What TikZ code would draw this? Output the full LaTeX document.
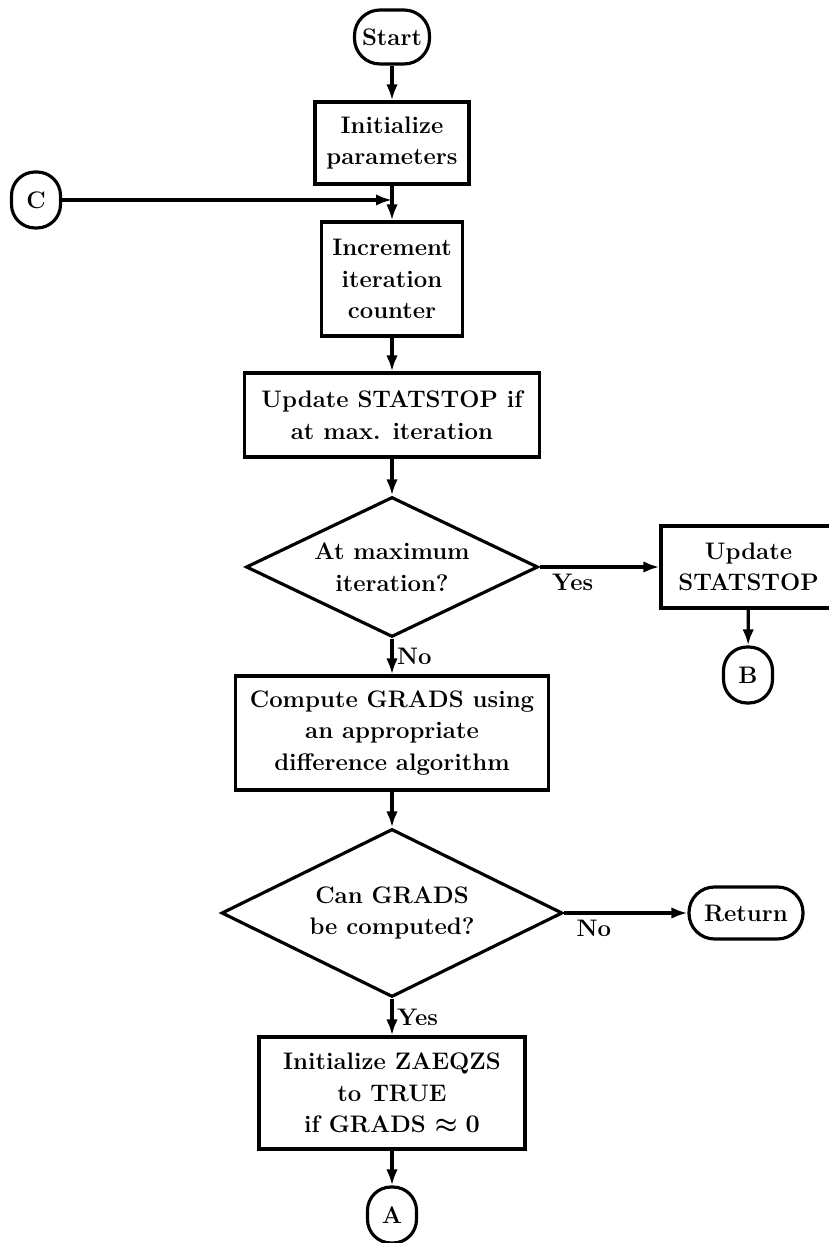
\documentclass[tikz,border=0pt]{standalone}
\usepackage{amsmath,amssymb}
\usetikzlibrary{positioning,arrows.meta,shapes.geometric,shapes.misc}
\newcommand{\flowfont}{\fontsize{13.6}{18}\selectfont\bfseries\boldmath}
\tikzset{
  every picture/.style={line width=1.8pt},
  proc/.style={draw,rectangle,align=center,inner sep=2pt,font=\flowfont},
  term/.style={draw,rectangle,rounded corners=5.1mm,align=center,inner sep=2pt,font=\flowfont},
  conn/.style={draw,rectangle,rounded corners=4.7mm,minimum width=9.8mm,minimum height=11.2mm,inner sep=0pt,font=\flowfont},
  dec/.style={draw,diamond,aspect=2,inner sep=1pt,align=center,font=\flowfont},
  lbl/.style={font=\flowfont,inner sep=2pt},
  flow/.style={-{Latex[length=3.2mm,width=2.3mm]}},
}

\begin{document}
\begin{tikzpicture}[x=1cm,y=1cm]
\useasboundingbox (0,0) rectangle (16.56,24.86);
% --- main column ---
\node[term,minimum width=15mm,minimum height=10.8mm] (start) at (7.84,24.12) {Start};
\node[proc,minimum width=30.8mm,minimum height=16.4mm] (init) at (7.84,22.00) {Initialize\\parameters};
\node[proc,minimum width=28.2mm,minimum height=22.8mm] (incr) at (7.84,19.28) {Increment\\iteration\\counter};
\node[proc,minimum width=59mm,minimum height=16.8mm] (upd) at (7.84,16.56) {Update STATSTOP if\\at max. iteration};
\node[dec,minimum width=58.4mm,minimum height=28mm] (maxit) at (7.84,13.52) {At maximum\\iteration?};
\node[proc,minimum width=62.6mm,minimum height=22.8mm] (grads) at (7.84,10.20) {Compute GRADS using\\an appropriate\\difference algorithm};
\node[dec,minimum width=68.2mm,minimum height=33.6mm] (cangr) at (7.84,6.60) {Can GRADS\\be computed?};
\node[proc,minimum width=53.2mm,minimum height=22.4mm] (zaeq) at (7.84,3.00) {Initialize ZAEQZS\\to TRUE\\if GRADS $\approx 0$};
\node[conn] (A) at (7.84,0.56) {A};
% --- side branches ---
\node[conn] (C) at (0.72,20.86) {C};
\node[proc,minimum width=35mm,minimum height=16.4mm] (updss) at (14.97,13.52) {Update\\STATSTOP};
\node[conn] (B) at (14.96,11.36) {B};
\node[term,minimum width=22.8mm,minimum height=10.4mm] (ret) at (14.92,6.60) {Return};
\coordinate (join) at (init.south |- C.east);
% --- connectors ---
\draw[flow] (start) -- (init);
\draw[flow] (init) -- (incr);
\draw[flow] (C) -- (join);
\draw[flow] (incr) -- (upd);
\draw[flow] (upd) -- (maxit);
\draw[flow] (maxit.east) -- (updss.west) node[lbl,pos=0,anchor=north west,xshift=1.5mm,yshift=-0.5mm] {Yes};
\draw[flow] (updss) -- (B);
\draw[flow] (maxit.south) -- node[lbl,right,midway] {No} (grads);
\draw[flow] (grads) -- (cangr);
\draw[flow] (cangr.east) -- (ret.west) node[lbl,pos=0,anchor=north west,xshift=1.5mm,yshift=-0.5mm] {No};
\draw[flow] (cangr.south) -- node[lbl,right,midway] {Yes} (zaeq);
\draw[flow] (zaeq) -- (A);
\end{tikzpicture}
\end{document}
